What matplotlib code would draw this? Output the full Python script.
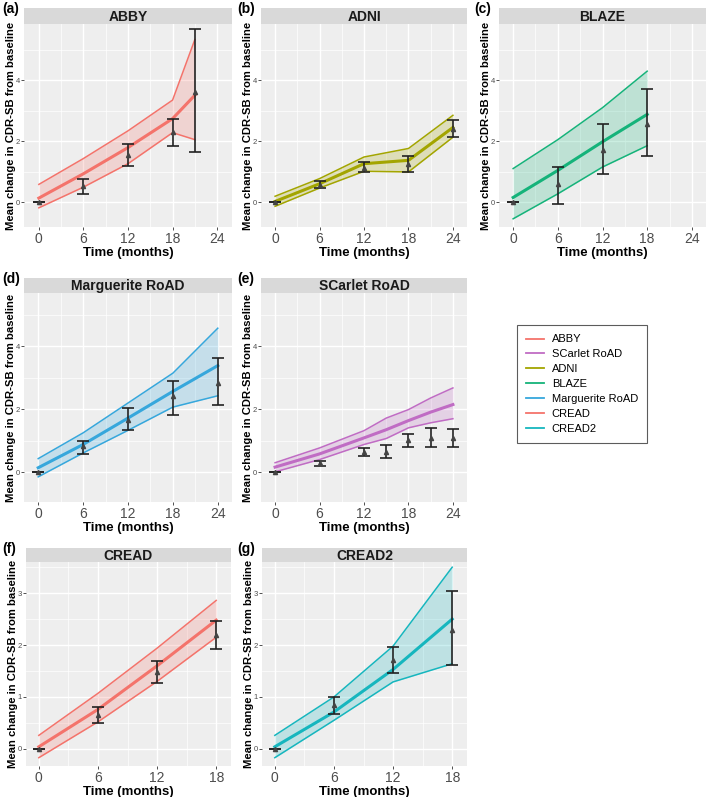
import matplotlib.pyplot as plt
from matplotlib.lines import Line2D
from matplotlib.ticker import FixedLocator

plt.rcParams['font.family'] = ['Liberation Sans', 'DejaVu Sans']

# ---- data (months, mean change in CDR-SB) ----
abby_t = [0, 6, 12, 18, 21]
abby_pred = [0.13, 0.93, 1.79, 2.74, 3.51]
abby_pred_lo = [-0.19, 0.49, 1.26, 2.28, 2.05]
abby_pred_hi = [0.58, 1.43, 2.34, 3.35, 5.34]
abby_obs = [0.0, 0.52, 1.54, 2.30, 3.62]
abby_obs_lo = [0.0, 0.28, 1.18, 1.83, 1.64]
abby_obs_hi = [0.0, 0.75, 1.92, 2.74, 5.67]

adni_t = [0, 6, 12, 18, 24]
adni_pred = [0.02, 0.60, 1.26, 1.37, 2.45]
adni_pred_lo = [-0.14, 0.46, 1.01, 0.99, 2.13]
adni_pred_hi = [0.19, 0.77, 1.48, 1.76, 2.85]
adni_obs = [0.0, 0.57, 1.12, 1.26, 2.41]
adni_obs_lo = [0.0, 0.46, 0.99, 0.99, 2.14]
adni_obs_hi = [0.0, 0.69, 1.30, 1.51, 2.69]

blaze_t = [0, 6, 12, 18]
blaze_pred = [0.15, 1.04, 1.98, 2.88]
blaze_pred_lo = [-0.55, 0.27, 1.15, 1.85]
blaze_pred_hi = [1.10, 2.05, 3.10, 4.30]
blaze_obs = [0.0, 0.60, 1.70, 2.55]
blaze_obs_lo = [0.0, -0.05, 0.93, 1.52]
blaze_obs_hi = [0.0, 1.15, 2.55, 3.73]

marg_t = [0, 6, 12, 18, 24]
marg_pred = [0.14, 0.88, 1.72, 2.57, 3.39]
marg_pred_lo = [-0.15, 0.61, 1.33, 2.07, 2.43]
marg_pred_hi = [0.43, 1.25, 2.20, 3.15, 4.58]
marg_obs = [0.0, 0.83, 1.67, 2.41, 2.84]
marg_obs_lo = [0.0, 0.59, 1.35, 1.83, 2.13]
marg_obs_hi = [0.0, 1.00, 2.04, 2.91, 3.63]

scar_t = [0, 6, 12, 15, 18, 21, 24]
scar_pred = [0.16, 0.58, 1.09, 1.35, 1.64, 1.91, 2.15]
scar_pred_lo = [0.01, 0.40, 0.88, 1.07, 1.41, 1.57, 1.70]
scar_pred_hi = [0.30, 0.77, 1.32, 1.72, 1.99, 2.36, 2.68]
scar_obs = [0.0, 0.28, 0.65, 0.65, 1.02, 1.09, 1.09]
scar_obs_lo = [0.0, 0.19, 0.51, 0.45, 0.80, 0.80, 0.80]
scar_obs_hi = [0.0, 0.37, 0.77, 0.86, 1.22, 1.41, 1.36]

cread_t = [0, 6, 12, 18]
cread_pred = [0.04, 0.76, 1.60, 2.48]
cread_pred_lo = [-0.17, 0.52, 1.30, 2.15]
cread_pred_hi = [0.26, 1.07, 1.94, 2.86]
cread_obs = [0.0, 0.65, 1.49, 2.20]
cread_obs_lo = [0.0, 0.49, 1.26, 1.93]
cread_obs_hi = [0.0, 0.80, 1.70, 2.47]

cread2_t = [0, 6, 12, 18]
cread2_pred = [0.04, 0.71, 1.53, 2.50]
cread2_pred_lo = [-0.17, 0.55, 1.29, 1.64]
cread2_pred_hi = [0.26, 1.00, 1.98, 3.50]
cread2_obs = [0.0, 0.84, 1.71, 2.29]
cread2_obs_lo = [0.0, 0.68, 1.46, 1.62]
cread2_obs_hi = [0.0, 0.99, 1.97, 3.05]

legend_names = ['ABBY', 'SCarlet RoAD', 'ADNI', 'BLAZE', 'Marguerite RoAD', 'CREAD', 'CREAD2']
colors = {'ABBY': '#F4736B', 'SCarlet RoAD': '#C06CC4', 'ADNI': '#A3A500',
          'BLAZE': '#15B37A', 'Marguerite RoAD': '#36A7DC', 'CREAD': '#F4736B',
          'CREAD2': '#16B6BE'}

W, H = 709, 797
fig = plt.figure(figsize=(W / 100, H / 100), dpi=100)


def px_rect(x0, y0, x1, y1):
    return [x0 / W, 1 - y1 / H, (x1 - x0) / W, (y1 - y0) / H]


# (label, name, data, x pixels, strip top/bottom, plot bottom, xlim, ylim, xticks, yticks)
panels = [
    ('(a)', 'ABBY', (abby_t, abby_pred, abby_pred_lo, abby_pred_hi, abby_obs, abby_obs_lo, abby_obs_hi),
     (24, 232), (8, 24, 227), (-2, 26), (-0.82, 5.85), [0, 6, 12, 18, 24], [0, 2, 4], 2),
    ('(b)', 'ADNI', (adni_t, adni_pred, adni_pred_lo, adni_pred_hi, adni_obs, adni_obs_lo, adni_obs_hi),
     (261, 467), (8, 24, 227), (-1.9, 25.9), (-0.82, 5.85), [0, 6, 12, 18, 24], [0, 2, 4], 237),
    ('(c)', 'BLAZE', (blaze_t, blaze_pred, blaze_pred_lo, blaze_pred_hi, blaze_obs, blaze_obs_lo, blaze_obs_hi),
     (499, 706), (8, 24, 227), (-1.9, 25.9), (-0.82, 5.85), [0, 6, 12, 18, 24], [0, 2, 4], 474),
    ('(d)', 'Marguerite RoAD', (marg_t, marg_pred, marg_pred_lo, marg_pred_hi, marg_obs, marg_obs_lo, marg_obs_hi),
     (24, 232), (278, 293, 502), (-1.9, 25.9), (-0.95, 5.7), [0, 6, 12, 18, 24], [0, 2, 4], 2),
    ('(e)', 'SCarlet RoAD', (scar_t, scar_pred, scar_pred_lo, scar_pred_hi, scar_obs, scar_obs_lo, scar_obs_hi),
     (261, 467), (278, 293, 502), (-1.9, 25.9), (-0.95, 5.7), [0, 6, 12, 18, 24], [0, 2, 4], 237),
    ('(f)', 'CREAD', (cread_t, cread_pred, cread_pred_lo, cread_pred_hi, cread_obs, cread_obs_lo, cread_obs_hi),
     (26, 231), (548, 562, 766), (-1.3, 19.5), (-0.33, 3.6), [0, 6, 12, 18], [0, 1, 2, 3], 2),
    ('(g)', 'CREAD2', (cread2_t, cread2_pred, cread2_pred_lo, cread2_pred_hi, cread2_obs, cread2_obs_lo, cread2_obs_hi),
     (262, 467), (548, 562, 766), (-1.3, 19.5), (-0.33, 3.6), [0, 6, 12, 18], [0, 1, 2, 3], 237),
]

for lab, name, data, (x0, x1), (st, sb, pb), xlim, ylim, xt, yt, lx in panels:
    t, pred, lo, hi, obs, olo, ohi = data
    c = colors[name]

    # strip on top of the panel
    sax = fig.add_axes(px_rect(x0, st, x1, sb))
    sax.set_facecolor('#D9D9D9')
    sax.set_xticks([])
    sax.set_yticks([])
    for s in sax.spines.values():
        s.set_visible(False)
    sax.text(0.5, 0.45, name, ha='center', va='center', fontsize=10,
             fontweight='bold', color='#1A1A1A', transform=sax.transAxes)

    ax = fig.add_axes(px_rect(x0, sb, x1, pb))
    ax.set_facecolor('#EEEEEE')
    for s in ax.spines.values():
        s.set_visible(False)

    # grid like ggplot theme_gray
    xminor = [v + 3 for v in xt if v + 3 < xlim[1]]
    ystep = yt[1] - yt[0]
    yminor = [v + ystep / 2 for v in yt] + [yt[0] - ystep / 2]
    ax.xaxis.set_major_locator(FixedLocator(xt))
    ax.yaxis.set_major_locator(FixedLocator(yt))
    ax.xaxis.set_minor_locator(FixedLocator(xminor))
    ax.yaxis.set_minor_locator(FixedLocator(yminor))
    ax.grid(which='major', color='white', lw=1.0)
    ax.grid(which='minor', color='white', lw=0.5)
    ax.set_axisbelow(True)
    ax.tick_params(which='minor', length=0)
    ax.tick_params(axis='x', which='major', length=2, width=0.6, color='#333333',
                   labelsize=10, labelcolor='#4D4D4D', pad=1.5)
    ax.tick_params(axis='y', which='major', length=2, width=0.6, color='#333333',
                   labelsize=5.5, labelcolor='#4D4D4D', pad=1)

    ax.fill_between(t, lo, hi, color=c, alpha=0.22, lw=0)
    ax.plot(t, lo, color=c, lw=1.1)
    ax.plot(t, hi, color=c, lw=1.1)
    ax.plot(t, pred, color=c, lw=2.2)

    yerr = [[o - l for o, l in zip(obs, olo)], [h - o for o, h in zip(obs, ohi)]]
    ax.errorbar(t, obs, yerr=yerr, fmt='none', ecolor='#222222', elinewidth=1.2,
                capsize=4.2, capthick=1.2)
    ax.plot(t, obs, ls='none', marker='^', color='#444444', ms=3)

    ax.set_xlim(*xlim)
    ax.set_ylim(*ylim)
    ax.set_xlabel('Time (months)', fontsize=9.5, fontweight='bold', labelpad=1)
    ax.set_ylabel('Mean change in CDR-SB from baseline', fontsize=8.1,
                  fontweight='bold', labelpad=-0.5)

    fig.text(lx / W, 1 - (st + 1) / H, lab, ha='left', va='center',
             fontsize=10, fontweight='bold')

handles = [Line2D([0], [0], color=colors[n], lw=1.3) for n in legend_names]
leg = fig.legend(handles, legend_names, loc='upper left',
                 bbox_to_anchor=(516.7 / W, 1 - 325 / H), frameon=True,
                 fancybox=False, edgecolor='#333333', fontsize=8,
                 handlelength=1.6, handletextpad=0.7, labelspacing=0.44,
                 borderpad=0.85, borderaxespad=0)
leg.get_frame().set_linewidth(0.8)

fig.savefig('out.png', dpi=100)
